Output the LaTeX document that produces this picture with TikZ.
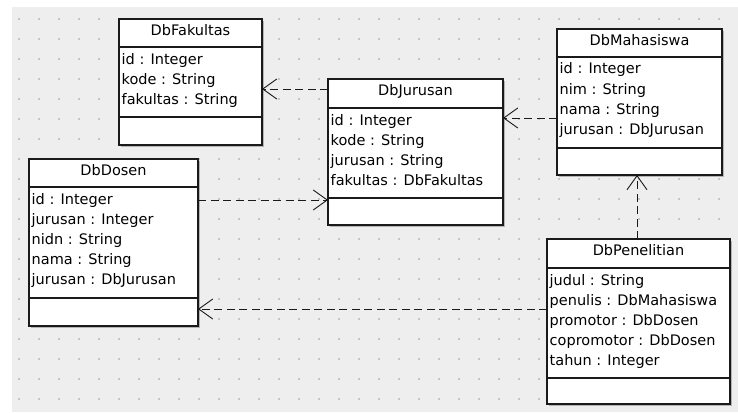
\documentclass[tikz,border=0pt]{standalone}
\usepackage{fontspec}
\setmainfont{DejaVu Sans}
\usetikzlibrary{arrows.meta}
\definecolor{bg}{HTML}{EEEEEE}
\definecolor{dotc}{HTML}{C6C6C6}
\definecolor{edgec}{HTML}{1A1A1A}
\definecolor{shadowc}{HTML}{B4B4B4}
\tikzset{
  classbox/.style={rectangle, draw=edgec, fill=white, line width=1.2pt, inner sep=0pt, outer sep=0pt, anchor=north west},
  titletxt/.style={inner sep=0pt, anchor=base, font=\fontsize{14.5}{20}\selectfont},
  attrtxt/.style={inner sep=0pt, anchor=base west, font=\fontsize{14.5}{20}\selectfont},
  sepline/.style={draw=edgec, line width=1.2pt},
  dep/.style={draw=edgec, line width=0.9pt, dash pattern=on 8pt off 4.5pt,
    -{Straight Barb[length=14pt, width=20pt, line width=0.9pt]}},
}
% #1 name #2 x1 #3 y1 #4 x2 #5 y2 #6 sep1 #7 sep2 #8 title #9 attributes
\newcommand{\umlclass}[9]{%
  \fill[shadowc] (#2+1.8,#3+1.8) rectangle (#4+1.8,#5+1.8);
  \node[classbox, minimum width={#4-#2}, minimum height={#5-#3}] (#1) at (#2,#3) {};
  \node[titletxt] (#1-title) at ({(#2+#4)/2}, #3+16.5) {#8};
  \draw[sepline] (#1.west |- 0,#6) -- (#1.east |- 0,#6);
  \draw[sepline] (#1.west |- 0,#7) -- (#1.east |- 0,#7);
  \foreach \a [count=\i] in {#9} {
    \node[attrtxt] (#1-a\i) at (#2+2.5, #6+17+20*\i-20) {\a};
  }
}
\begin{document}
\begin{tikzpicture}[x=1pt, y=-1pt]
\useasboundingbox (0,0) rectangle (738,412);
\fill[white] (0,0) rectangle (738,412);
\fill[bg] (12,7) rectangle (738,412);
\foreach \i in {0,...,35} {
  \foreach \j in {0,...,19} {
    \fill[dotc] (19+20*\i-0.8, 19+20*\j-0.8) rectangle ++(1.6,1.6);
  }
}
\umlclass{fak}{119}{19}{262}{145}{47}{117}{DbFakultas}{id : Integer, kode : String, fakultas : String}
\umlclass{dos}{29}{159}{198}{326}{187}{298}{DbDosen}{id : Integer, jurusan : Integer, nidn : String, nama : String, jurusan : DbJurusan}
\umlclass{jur}{328}{79}{503}{225}{108}{198}{DbJurusan}{id : Integer, kode : String, jurusan : String, fakultas : DbFakultas}
\umlclass{mah}{557}{29}{722}{175}{57}{148}{DbMahasiswa}{id : Integer, nim : String, nama : String, jurusan : DbJurusan}
\umlclass{pen}{547}{239}{730}{404}{268}{378}{DbPenelitian}{judul : String, penulis : DbMahasiswa, promotor : DbDosen, copromotor : DbDosen, tahun : Integer}
\draw[dep] (jur.west |- 0,89) -- (fak.east |- 0,89);
\draw[dep] (dos.east |- 0,200) -- (jur.west |- 0,200);
\draw[dep] (mah.west |- 0,118) -- (jur.east |- 0,118);
\draw[dep] (pen.north -| 637,0) -- (mah.south -| 637,0);
\draw[dep] (pen.west |- 0,309) -- (dos.east |- 0,309);
\end{tikzpicture}
\end{document}
